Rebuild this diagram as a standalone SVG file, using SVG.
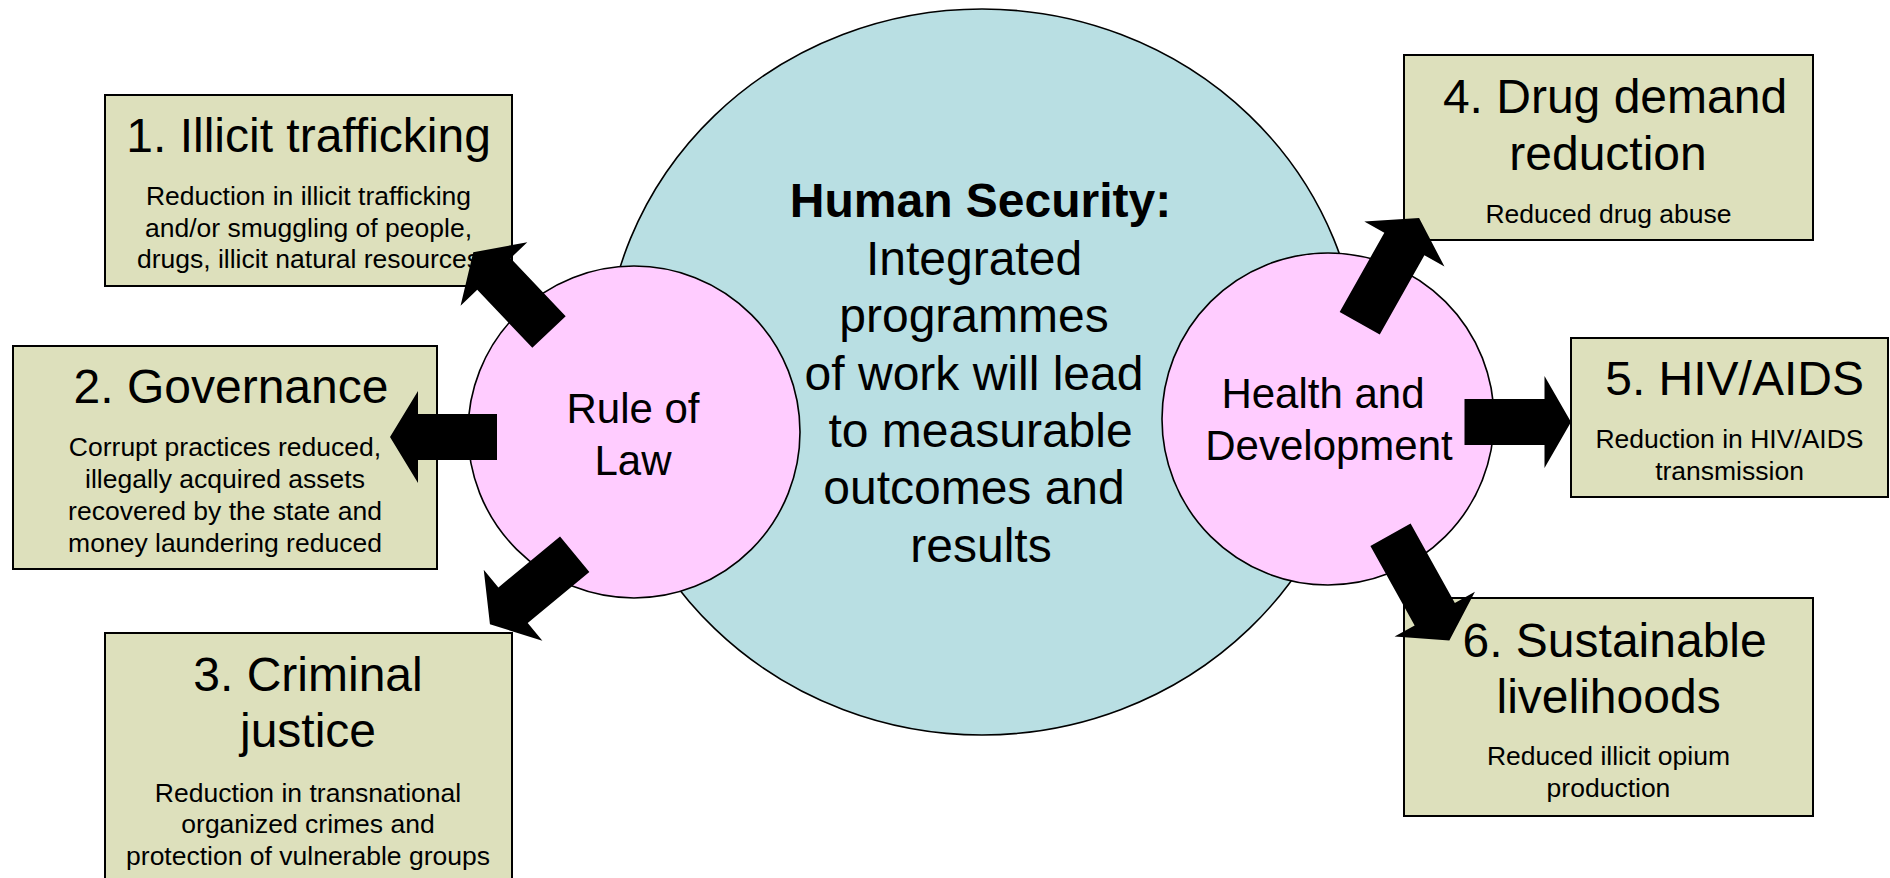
<svg xmlns="http://www.w3.org/2000/svg" width="1890" height="878" viewBox="0 0 1890 878">
<style>
.box{fill:#DDE0BC;stroke:#000;stroke-width:2}
.pink{fill:#FFCCFF;stroke:#000;stroke-width:1.6}
.blue{fill:#B9DFE3;stroke:#000;stroke-width:1.6}
text{font-family:"Liberation Sans",Arial,sans-serif;fill:#000;text-anchor:middle}
.t{font-size:48px}
.s{font-size:26.5px}
.c{font-size:42px}
.m{font-size:48px}
.b{font-weight:bold}
.arr{fill:#000;stroke:none}
</style>
<rect width="1890" height="878" fill="#fff"/>
<g id="human-security">
<ellipse class="blue" cx="982" cy="372" rx="378" ry="363"/>
<text class="m b" x="980.5" y="217">Human Security:</text>
<text class="m" x="974" y="275">Integrated</text>
<text class="m" x="974" y="332">programmes</text>
<text class="m" x="974" y="390">of work will lead</text>
<text class="m" x="980.6" y="447">to measurable</text>
<text class="m" x="974" y="504">outcomes and</text>
<text class="m" x="981" y="562">results</text>
</g>
<g id="rule-of-law">
<circle class="pink" cx="634" cy="432" r="166"/>
<text class="c" x="633" y="423">Rule of</text>
<text class="c" x="633" y="475">Law</text>
</g>
<g id="health-development">
<circle class="pink" cx="1328" cy="419" r="166"/>
<text class="c" x="1323" y="408">Health and</text>
<text class="c" x="1329" y="460">Development</text>
</g>
<g id="box1">
<rect class="box" x="105" y="95" width="407" height="191"/>
<text class="t" x="308.6" y="152">1. Illicit trafficking</text>
<text class="s" x="308.5" y="205">Reduction in illicit trafficking</text>
<text class="s" x="308.5" y="237">and/or smuggling of people,</text>
<text class="s" x="308.5" y="268">drugs, illicit natural resources</text>
</g>
<g id="box2">
<rect class="box" x="13" y="346" width="424" height="223"/>
<text class="t" x="231" y="403">2. Governance</text>
<text class="s" x="225" y="456">Corrupt practices reduced,</text>
<text class="s" x="225" y="488">illegally acquired assets</text>
<text class="s" x="225" y="520">recovered by the state and</text>
<text class="s" x="225" y="552">money laundering reduced</text>
</g>
<g id="box3">
<rect class="box" x="105" y="633" width="407" height="260"/>
<text class="t" x="308" y="691">3. Criminal</text>
<text class="t" x="308" y="747">justice</text>
<text class="s" x="308" y="802">Reduction in transnational</text>
<text class="s" x="308" y="833">organized crimes and</text>
<text class="s" x="308" y="865">protection of vulnerable groups</text>
</g>
<g id="box4">
<rect class="box" x="1404" y="55" width="409" height="185"/>
<text class="t" x="1615" y="113">4. Drug demand</text>
<text class="t" x="1608" y="170">reduction</text>
<text class="s" x="1608.5" y="223">Reduced drug abuse</text>
</g>
<g id="box5">
<rect class="box" x="1571" y="338" width="317" height="159"/>
<text class="t" x="1734.6" y="395">5. HIV/AIDS</text>
<text class="s" x="1729.5" y="448">Reduction in HIV/AIDS</text>
<text class="s" x="1729.5" y="480">transmission</text>
</g>
<g id="box6">
<rect class="box" x="1404" y="598" width="409" height="218"/>
<text class="t" x="1614.6" y="657">6. Sustainable</text>
<text class="t" x="1608.6" y="713">livelihoods</text>
<text class="s" x="1608.5" y="765">Reduced illicit opium</text>
<text class="s" x="1608.5" y="797">production</text>
</g>
<g id="connectors">
<path class="arr" transform="translate(549,332) rotate(-133.5)" d="M0,-23 H80 V-46 L110,0 L80,46 V23 H0 Z"/>
<path class="arr" transform="translate(497,437) rotate(180)" d="M0,-23 H79 V-46 L107,0 L79,46 V23 H0 Z"/>
<path class="arr" transform="translate(574.7,554.2) rotate(140.4)" d="M0,-23 H80 V-46 L110,0 L80,46 V23 H0 Z"/>
<path class="arr" transform="translate(1359.7,323.3) rotate(-60.6)" d="M0,-23 H91 V-46 L121,0 L91,46 V23 H0 Z"/>
<path class="arr" transform="translate(1464.5,422) rotate(0)" d="M0,-23 H80 V-46 L106.5,0 L80,46 V23 H0 Z"/>
<path class="arr" transform="translate(1390.5,534.7) rotate(60.9)" d="M0,-23 H91 V-46 L121,0 L91,46 V23 H0 Z"/>
</g>
</svg>
